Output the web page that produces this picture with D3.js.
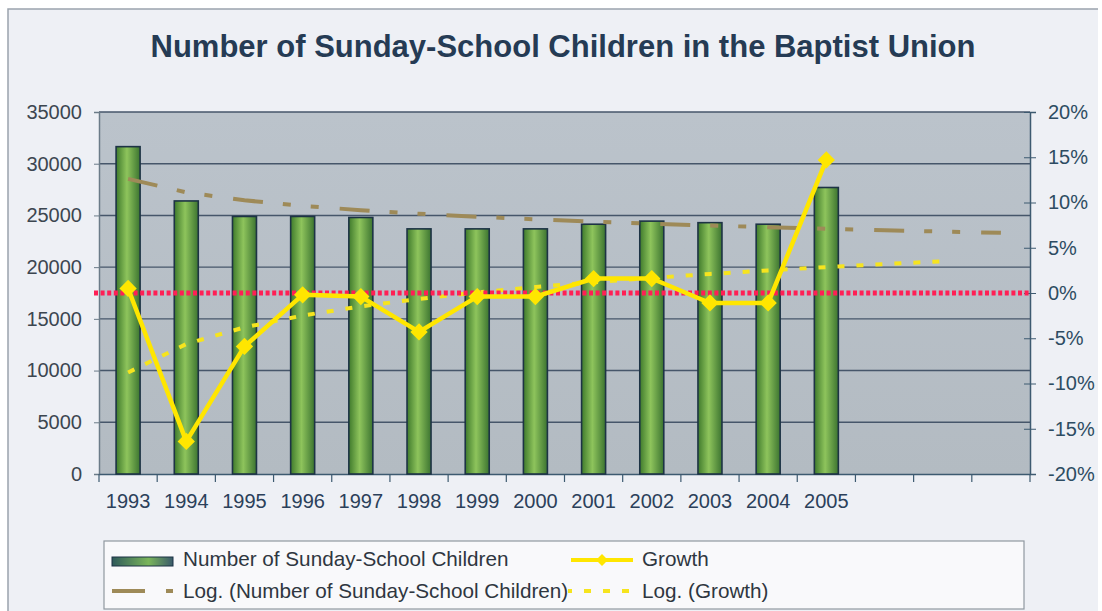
<!DOCTYPE html>
<html>
<head>
<meta charset="utf-8">
<script src="https://cdn.jsdelivr.net/npm/d3@7"></script>
<style>
  body { margin: 0; background: #ffffff; }
  svg { display: block; font-family: "Liberation Sans", Arial, sans-serif; }
</style>
</head>
<body>
<div id="chart"></div>
<script>
// data
const years = ['1993', '1994', '1995', '1996', '1997', '1998', '1999', '2000', '2001', '2002', '2003', '2004', '2005'];
const children = [31650, 26400, 24900, 24900, 24800, 23700, 23700, 23700, 24150, 24450, 24300, 24150, 27700];
const growth = [0.5, -16.4, -5.9, -0.2, -0.4, -4.3, -0.4, -0.4, 1.6, 1.6, -1.1, -1.1, 14.7];
const leftTicks = [0, 5000, 10000, 15000, 20000, 25000, 30000, 35000];
const rightTicks = [-20, -15, -10, -5, 0, 5, 10, 15, 20];
const slotCount = 16;          // 13 years + forecast periods
const childrenForecast = 3;
const growthForecast = 2;

const width = 1102, height = 611;
const plot = {left: 99, right: 1030, top: 112, bottom: 474};

const svg = d3.select('#chart').append('svg')
    .attr('width', width)
    .attr('height', height);

const defs = svg.append('defs');
const barGrad = defs.append('linearGradient').attr('id', 'barGrad')
    .attr('x1', 0).attr('x2', 1).attr('y1', 0).attr('y2', 0);
barGrad.append('stop').attr('offset', '0%').attr('stop-color', '#3f7a2c');
barGrad.append('stop').attr('offset', '45%').attr('stop-color', '#8ec45c');
barGrad.append('stop').attr('offset', '100%').attr('stop-color', '#3c7430');

const legGrad = defs.append('linearGradient').attr('id', 'legGrad')
    .attr('x1', 0).attr('x2', 1).attr('y1', 0).attr('y2', 0);
legGrad.append('stop').attr('offset', '0%').attr('stop-color', '#2f5a5a');
legGrad.append('stop').attr('offset', '60%').attr('stop-color', '#7ab55a');
legGrad.append('stop').attr('offset', '100%').attr('stop-color', '#3a5a6a');

const bgGrad = defs.append('linearGradient').attr('id', 'bgGrad')
    .attr('x1', 0).attr('x2', 0).attr('y1', 0).attr('y2', 1);
bgGrad.append('stop').attr('offset', '0%').attr('stop-color', '#bbc3cb');
bgGrad.append('stop').attr('offset', '100%').attr('stop-color', '#b3bbc2');

// page background + frame
svg.append('rect').attr('x', 8).attr('y', 9).attr('width', 1090).attr('height', 602)
    .attr('fill', '#eef0f5');
svg.append('path').attr('d', 'M8,611V9H1098')
    .attr('fill', 'none').attr('stroke', '#9aa3ad').attr('stroke-width', 1.5);

// title
svg.append('text')
    .attr('x', 563).attr('y', 57)
    .attr('text-anchor', 'middle')
    .attr('font-size', 31).attr('font-weight', 'bold')
    .attr('fill', '#253b54')
    .text('Number of Sunday-School Children in the Baptist Union');

const x = d3.scaleBand()
    .domain(d3.range(slotCount))
    .range([plot.left, plot.right]);

const y = d3.scaleLinear().domain([0, 35000]).range([plot.bottom, plot.top]);
const y2 = d3.scaleLinear().domain([-20, 20]).range([plot.bottom, plot.top]);

svg.append('rect')
    .attr('x', plot.left).attr('y', plot.top)
    .attr('width', plot.right - plot.left).attr('height', plot.bottom - plot.top)
    .attr('fill', 'url(#bgGrad)');

// gridlines
svg.append('g').selectAll('line')
  .data(leftTicks.slice(1))
  .join('line')
    .attr('x1', plot.left).attr('x2', plot.right)
    .attr('y1', d => y(d)).attr('y2', d => y(d))
    .attr('stroke', '#46566a').attr('stroke-width', 1.4);

// left axis
const leftAxis = svg.append('g')
    .attr('transform', `translate(${plot.left},0)`)
    .call(d3.axisLeft(y).tickValues(leftTicks).tickSize(5).tickPadding(12).tickFormat(d3.format('d')));
leftAxis.select('.domain').attr('stroke', '#6b7b88').attr('stroke-width', 1.5);
leftAxis.selectAll('.tick line').attr('stroke', '#6b7b88');
leftAxis.selectAll('text').attr('font-size', 20).attr('fill', '#3c4650')
    .attr('font-family', '"Liberation Sans", Arial, sans-serif');

// right axis
const rightAxis = svg.append('g')
    .attr('transform', `translate(${plot.right},0)`)
    .call(d3.axisRight(y2).tickValues(rightTicks).tickSize(6).tickPadding(12).tickFormat(d => d + '%'));
rightAxis.select('.domain').attr('stroke', '#3d5a70').attr('stroke-width', 1.5);
rightAxis.selectAll('.tick line').attr('stroke', '#3d5a70').attr('x1', -6);
rightAxis.selectAll('text').attr('font-size', 20).attr('fill', '#2d4c62')
    .attr('font-family', '"Liberation Sans", Arial, sans-serif');

// bottom axis
const bottomAxis = svg.append('g')
    .attr('transform', `translate(0,${plot.bottom})`)
    .call(d3.axisBottom(x).tickSize(0).tickPadding(20).tickFormat(i => years[i] || ''));
bottomAxis.select('.domain').attr('stroke', '#3d5a70').attr('stroke-width', 1.5);
bottomAxis.selectAll('text').attr('font-size', 20).attr('fill', '#2b405a')
    .attr('font-family', '"Liberation Sans", Arial, sans-serif');
svg.append('g').selectAll('line')
  .data(d3.range(slotCount + 1))
  .join('line')
    .attr('x1', i => plot.left + i * x.step()).attr('x2', i => plot.left + i * x.step())
    .attr('y1', plot.bottom).attr('y2', plot.bottom + 8)
    .attr('stroke', '#3d5a70').attr('stroke-width', 1.2);

// bars
const barW = 24;
svg.append('g').selectAll('rect')
  .data(children)
  .join('rect')
    .attr('x', (d, i) => x(i) + x.bandwidth() / 2 - barW / 2)
    .attr('y', d => y(d))
    .attr('width', barW)
    .attr('height', d => y(0) - y(d))
    .attr('fill', 'url(#barGrad)')
    .attr('stroke', '#1d3345').attr('stroke-width', 1.6);

// log trendlines (least squares on ln x, like the spreadsheet does)
function logFit(vals) {
  const lx = vals.map((v, i) => Math.log(i + 1));
  const mx = d3.mean(lx), my = d3.mean(vals);
  const a = d3.sum(lx, (l, i) => (l - mx) * (vals[i] - my)) / d3.sum(lx, l => (l - mx) ** 2);
  return {a, b: my - a * mx};
}
const cx = i => x(i) + x.bandwidth() / 2;

const fitC = logFit(children);
const trendC = d3.range(years.length + childrenForecast).map(i => [cx(i), y(fitC.a * Math.log(i + 1) + fitC.b)]);
svg.append('path')
    .attr('d', d3.line()(trendC))
    .attr('fill', 'none')
    .attr('stroke', '#9e8a58').attr('stroke-width', 4)
    .attr('stroke-dasharray', '30,20,8,20,8,21');

const fitG = logFit(growth);
const trendG = d3.range(years.length + growthForecast).map(i => [cx(i), y2(fitG.a * Math.log(i + 1) + fitG.b)]);
svg.append('path')
    .attr('d', d3.line()(trendG))
    .attr('fill', 'none')
    .attr('stroke', '#f6e41e').attr('stroke-width', 4)
    .attr('stroke-dasharray', '7,12');

// zero line
svg.append('line')
    .attr('x1', plot.left - 5).attr('x2', plot.right)
    .attr('y1', y2(0)).attr('y2', y2(0))
    .attr('stroke', '#ff1f55').attr('stroke-width', 5)
    .attr('stroke-dasharray', '4,2.6');

// growth line + diamonds
svg.append('path')
    .attr('d', d3.line()(growth.map((g, i) => [cx(i), y2(g)])))
    .attr('fill', 'none')
    .attr('stroke', '#ffe600').attr('stroke-width', 4.5)
    .attr('stroke-linejoin', 'round');

const diamond = d3.symbol().type(d3.symbolDiamond2).size(190);
svg.append('g').selectAll('path')
  .data(growth)
  .join('path')
    .attr('transform', (g, i) => `translate(${cx(i)},${y2(g)})`)
    .attr('d', diamond)
    .attr('fill', '#ffe600');

// legend
const leg = svg.append('g');
leg.append('rect')
    .attr('x', 104).attr('y', 541).attr('width', 920).attr('height', 68)
    .attr('fill', '#f9f9fb').attr('stroke', '#9098a0').attr('stroke-width', 1.2);

const legText = (tx, ty, s) => leg.append('text')
    .attr('x', tx).attr('y', ty)
    .attr('font-size', 20.7).attr('fill', '#2f3640')
    .text(s);

leg.append('rect').attr('x', 112).attr('y', 557).attr('width', 61).attr('height', 9)
    .attr('fill', 'url(#legGrad)').attr('stroke', '#1d3345').attr('stroke-width', 1);
legText(183, 566, 'Number of Sunday-School Children');

leg.append('line').attr('x1', 571).attr('x2', 633).attr('y1', 560).attr('y2', 560)
    .attr('stroke', '#ffe600').attr('stroke-width', 4);
leg.append('path').attr('transform', 'translate(602,560)')
    .attr('d', d3.symbol().type(d3.symbolDiamond2).size(90)).attr('fill', '#ffe600');
legText(642, 566, 'Growth');

leg.append('line').attr('x1', 112).attr('x2', 173).attr('y1', 591).attr('y2', 591)
    .attr('stroke', '#9e8a58').attr('stroke-width', 4)
    .attr('stroke-dasharray', '33,21,7,100');
legText(183, 598, 'Log. (Number of Sunday-School Children)');

leg.append('line').attr('x1', 568).attr('x2', 633).attr('y1', 591).attr('y2', 591)
    .attr('stroke', '#f6e41e').attr('stroke-width', 4)
    .attr('stroke-dasharray', '4,12,7,12,7,12,7,12');
legText(642, 598, 'Log. (Growth)');
</script>
</body>
</html>
